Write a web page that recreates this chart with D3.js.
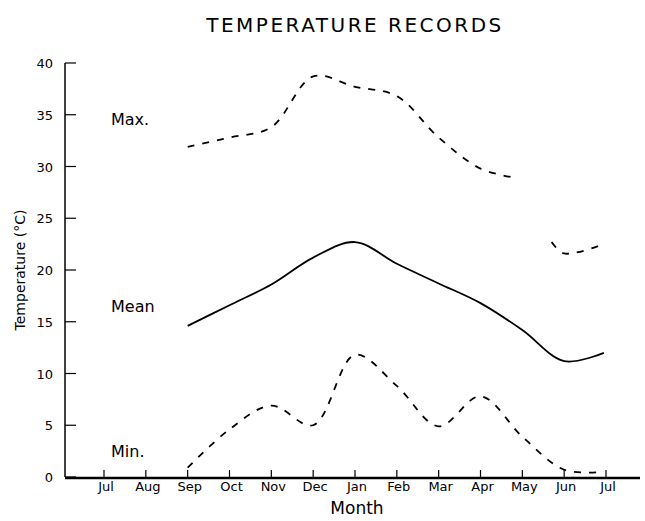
<!DOCTYPE html>
<html>
<head>
<meta charset="utf-8">
<script src="https://cdn.jsdelivr.net/npm/d3@7"></script>
<style>
  body { margin: 0; background: #fff; }
  text { font-family: "DejaVu Sans", sans-serif; fill: #000; }
</style>
</head>
<body>
<div id="c1"></div>
<script>
// Data
var months = ["Jul", "Aug", "Sep", "Oct", "Nov", "Dec", "Jan", "Feb", "Mar", "Apr", "May", "Jun", "Jul"];
var yTicks = [0, 5, 10, 15, 20, 25, 30, 35, 40];

// month index -> value (index 0 = first Jul)
var maxEarly = [[2, 31.9], [3, 32.8], [4, 33.8], [5, 38.7], [6, 37.7], [7, 36.8], [8, 32.8], [9, 29.8], [9.85, 28.9]];
var maxLate = [[10.7, 22.7], [11, 21.6], [11.95, 22.5]];
var meanVals = [[2, 14.6], [3, 16.6], [4, 18.6], [5, 21.2], [6, 22.7], [7, 20.6], [8, 18.7], [9, 16.8], [10, 14.2], [11, 11.2], [11.95, 12.0]];
var minVals = [[2, 0.9], [3, 4.6], [4, 6.9], [5, 5.0], [6, 11.8], [7, 8.8], [8, 4.9], [9, 7.8], [10, 3.9], [11, 0.7], [11.95, 0.5]];

var seriesLabels = [["Max.", 34.5], ["Mean", 16.4], ["Min.", 2.4]];

function draw() {
    var w = 645, h = 521;
    var svg = d3.select("#c1").append("svg")
        .attr("width", w)
        .attr("height", h);

    // Scales
    var x = d3.scaleLinear().domain([0, 12]).range([104, 606]);
    var y = d3.scaleLinear().domain([0, 40]).range([477, 63]);

    // Title
    svg.append("text")
        .attr("x", 355).attr("y", 32)
        .attr("text-anchor", "middle")
        .attr("font-size", 20)
        .attr("letter-spacing", 2.5)
        .text("TEMPERATURE RECORDS");

    // Y axis
    svg.append("line")
        .attr("x1", 65).attr("x2", 65)
        .attr("y1", y(40)).attr("y2", y(0))
        .attr("stroke", "#000").attr("stroke-width", 1.5);

    svg.selectAll("line.ytick")
        .data(yTicks).enter()
        .append("line")
        .attr("x1", 65).attr("x2", 76)
        .attr("y1", function (d) { return y(d); })
        .attr("y2", function (d) { return y(d); })
        .attr("stroke", "#000").attr("stroke-width", 1.2);

    svg.selectAll("text.ylab")
        .data(yTicks).enter()
        .append("text")
        .attr("x", 53)
        .attr("y", function (d) { return y(d) + 5; })
        .attr("text-anchor", "end")
        .attr("font-size", 13)
        .text(function (d) { return d; });

    svg.append("text")
        .attr("transform", "translate(25,270) rotate(-90)")
        .attr("text-anchor", "middle")
        .attr("font-size", 14)
        .text("Temperature (°C)");

    // X axis
    svg.append("line")
        .attr("x1", 65).attr("x2", 640)
        .attr("y1", 478).attr("y2", 478)
        .attr("stroke", "#000").attr("stroke-width", 2.6);

    svg.selectAll("line.xtick")
        .data(months).enter()
        .append("line")
        .attr("x1", function (d, i) { return x(i); })
        .attr("x2", function (d, i) { return x(i); })
        .attr("y1", 478).attr("y2", 470)
        .attr("stroke", "#000").attr("stroke-width", 1.2);

    svg.selectAll("text.xlab")
        .data(months).enter()
        .append("text")
        .attr("x", function (d, i) { return x(i) + 2; })
        .attr("y", 491)
        .attr("text-anchor", "middle")
        .attr("font-size", 13)
        .text(function (d) { return d; });

    svg.append("text")
        .attr("x", 357).attr("y", 514)
        .attr("text-anchor", "middle")
        .attr("font-size", 17)
        .text("Month");

    // Lines
    var line = d3.line()
        .x(function (d) { return x(d[0]); })
        .y(function (d) { return y(d[1]); })
        .curve(d3.curveCatmullRom.alpha(0.5));

    [maxEarly, maxLate, minVals].forEach(function (s) {
        svg.append("path")
            .attr("d", line(s))
            .attr("fill", "none")
            .attr("stroke", "#000")
            .attr("stroke-width", 1.8)
            .attr("stroke-dasharray", "7,8");
    });

    svg.append("path")
        .attr("d", line(meanVals))
        .attr("fill", "none")
        .attr("stroke", "#000")
        .attr("stroke-width", 1.8);

    // Series labels
    svg.selectAll("text.slab")
        .data(seriesLabels).enter()
        .append("text")
        .attr("x", 111)
        .attr("y", function (d) { return y(d[1]) + 5; })
        .attr("font-size", 16)
        .text(function (d) { return d[0]; });
}

draw();
</script>
</body>
</html>
